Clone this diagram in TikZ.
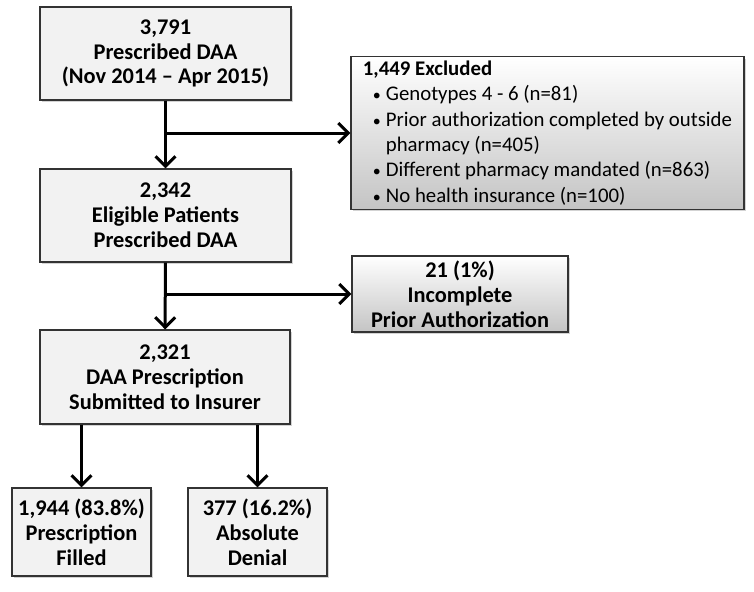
\documentclass[tikz,border=0pt]{standalone}
\usepackage{fontspec}
\setmainfont{Carlito}
\usetikzlibrary{arrows.meta,shadows}
\definecolor{boxgray}{RGB}{242,242,242}
\definecolor{shadegray}{RGB}{196,196,196}
\tikzset{
  box/.style={draw=black!80, line width=0.6pt, fill=boxgray, align=center,
    font=\bfseries\fontsize{11.2}{12.4}\selectfont, inner sep=2pt,
    drop shadow={shadow xshift=1pt, shadow yshift=-1pt, opacity=0.35}},
  sidebox/.style={box, top color=white, bottom color=shadegray},
  arrow/.style={line width=1.5pt, -{Straight Barb[length=5pt, width=10pt, line width=1.5pt]}}
}
\newcommand{\bul}{\hspace{5pt}{\footnotesize\textbullet}\hspace{2.5pt}}
\begin{document}
\begin{tikzpicture}[x=0.5pt, y=-0.5pt]
\useasboundingbox (0,0) rectangle (754,591);
\node (prescribed) [box, minimum width=125.5pt, minimum height=46.5pt] at (165.5,53.5) {3,791\\Prescribed DAA\\(Nov 2014 -- Apr 2015)};
\node (eligible) [box, minimum width=125.5pt, minimum height=46.5pt] at (165.5,215.5) {2,342\\Eligible Patients\\Prescribed DAA};
\node (submitted) [box, minimum width=125pt, minimum height=47pt] at (165,377) {2,321\\DAA Prescription\\Submitted to Insurer};
\node (filled) [box, minimum width=69.5pt, minimum height=44pt] at (81.5,532) {1,944 (83.8\%)\\Prescription\\Filled};
\node (denial) [box, minimum width=69.5pt, minimum height=44pt] at (257.5,532) {377 (16.2\%)\\Absolute\\Denial};
\node (excluded) [sidebox, minimum width=196.5pt, minimum height=75pt, align=left, font=\fontsize{10.4}{12.7}\selectfont] at (547.5,133) {\textbf{1,449 Excluded}\\
\bul Genotypes 4 - 6 (n=81)\\
\bul Prior authorization completed by outside\\
\phantom{\bul}pharmacy (n=405)\\
\bul Different pharmacy mandated (n=863)\\
\bul No health insurance (n=100)};
\node (incomplete) [sidebox, minimum width=108pt, minimum height=38pt] at (460,294) {21 (1\%)\\Incomplete\\Prior Authorization};
\draw[arrow] (prescribed) -- (eligible);
\draw[arrow] (prescribed.south |- excluded) -- (excluded.west);
\draw[arrow] (eligible) -- (submitted);
\draw[arrow] (eligible.south |- incomplete) -- (incomplete.west);
\draw[arrow] (filled |- submitted.south) -- (filled);
\draw[arrow] (denial |- submitted.south) -- (denial);
\end{tikzpicture}
\end{document}
